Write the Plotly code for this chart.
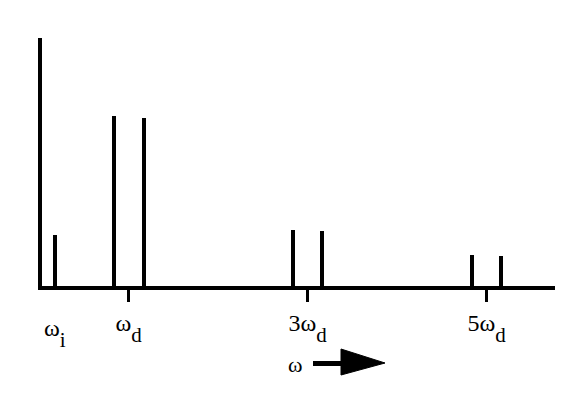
import plotly.graph_objects as go

# ── Spectrum data (frequency in units of ω_d, arbitrary amplitude) ──────────
freqs = [0.173, 0.836, 1.171, 2.832, 3.156, 4.832, 5.156]
amps = [0.206, 0.685, 0.677, 0.226, 0.222, 0.126, 0.121]

tick_vals = [1, 3, 5]
tick_main = ["ω", "3ω", "5ω"]
tick_sub = ["d", "d", "d"]

omega_i = freqs[0]
omega_i_main, omega_i_sub = "ω", "i"
axis_label = "ω"

# ── Canvas geometry ─────────────────────────────────────────────────────────
W, H = 588, 406
L, R, T, B = 42, 33, 38, 120
FONT = "Liberation Serif, Times New Roman, serif"
SUB = '<span style="font-size:21px;baseline-shift:-11px">{}</span>'


def paper_x(px):
    return (px - L) / (W - L - R)


def paper_y(py):
    return (H - B - py) / (H - T - B)


def label(main, sub):
    return main + SUB.format(sub)


fig = go.Figure()

fig.add_trace(go.Bar(
    x=freqs,
    y=amps,
    width=0.045,
    marker=dict(color="black", line=dict(width=0)),
    hoverinfo="skip",
))

# ω_i label (no tick mark under it)
fig.add_annotation(
    x=omega_i, xref="x",
    y=paper_y(313), yref="paper",
    yanchor="top", xanchor="center",
    text=label(omega_i_main, omega_i_sub),
    showarrow=False,
    font=dict(family=FONT, size=24, color="black"),
)

# ω with arrow
fig.add_annotation(
    x=paper_x(295), xref="paper",
    y=paper_y(364), yref="paper",
    xanchor="center", yanchor="middle",
    text=axis_label,
    showarrow=False,
    font=dict(family=FONT, size=22, color="black"),
)
fig.add_shape(
    type="line", xref="paper", yref="paper",
    x0=paper_x(313), x1=paper_x(343), y0=paper_y(363.5), y1=paper_y(363.5),
    line=dict(color="black", width=5),
)
fig.add_shape(
    type="path", xref="paper", yref="paper",
    path=(f"M {paper_x(341)},{paper_y(349)} L {paper_x(385)},{paper_y(363)} "
          f"L {paper_x(341)},{paper_y(375)} Z"),
    fillcolor="black", line=dict(color="black", width=1),
)

fig.update_layout(
    width=W, height=H,
    margin=dict(l=L, r=R, t=T, b=B),
    paper_bgcolor="white",
    plot_bgcolor="white",
    showlegend=False,
    bargap=0,
    font=dict(family=FONT, size=24, color="black"),
    xaxis=dict(
        range=[0.031, 5.763],
        showline=True, linewidth=4, linecolor="black",
        showgrid=False, zeroline=False,
        ticks="outside", ticklen=12, tickwidth=3, tickcolor="black",
        tickvals=tick_vals,
        ticktext=[label(m, s) for m, s in zip(tick_main, tick_sub)],
        tickfont=dict(family=FONT, size=24, color="black"),
    ),
    yaxis=dict(
        range=[0, 1],
        showline=True, linewidth=4, linecolor="black",
        showgrid=False, zeroline=False,
        ticks="", showticklabels=False,
    ),
)

fig.write_html(
    "out.html",
    config={"displayModeBar": False},
    post_script="document.body.style.margin='0px';",
)
